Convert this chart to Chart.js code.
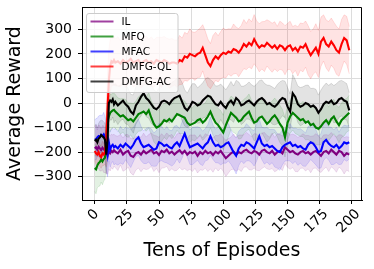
<!DOCTYPE html>
<html><head><meta charset="utf-8">
<script src="https://cdn.jsdelivr.net/npm/chart.js@4"></script>
<style>html,body{margin:0;padding:0;background:#fff}canvas{display:block}</style>
</head><body>
<canvas id="c" width="374" height="269"></canvas>
<script>
const episodes = [0,1,2,3,4,5,6,7,8,9,10,11,12,13,14,15,
16,18,20,22,24,26,28,30,32,34,36,38,40,
42,44,46,48,50,52,54,56,58,60,62,64,66,68,70,72,74,76,78,80,
82,84,86,88,90,92,94,96,98,100,102,104,106,108,110,112,114,116,118,120,
122,124,126,128,130,132,134,136,138,140,142,144,146,148,150,152,154,156,158,160,
162,164,166,168,170,172,174,176,178,180,182,184,186,188,190,192,194,196,198];
const xTicks = [0,25,50,75,100,125,150,175,200];
const yTicks = [-300,-200,-100,0,100,200,300];
const seriesNames = ['IL','MFQ','MFAC','DMFG-QL','DMFG-AC'];

const ilMean = [-185,-180,-190,-178,-185,-192,-182,-188,-195,-205,-215,-198,-205,-195,-200,-192,
-198,-205,-190,-210,-200,-195,-215,-220,-205,-200,-210,-195,-205,
-198,-190,-205,-200,-212,-195,-200,-190,-205,-198,-210,-200,-192,-205,-195,-210,-200,-205,-198,-215,
-200,-208,-195,-205,-200,-212,-198,-205,-195,-210,-225,-215,-205,-198,-210,-200,-205,-195,-190,-200,
-205,-195,-200,-210,-195,-190,-200,-205,-195,-210,-200,-195,-205,-180,-190,-200,-195,-205,-210,-200,
-195,-205,-200,-210,-200,-195,-205,-215,-200,-195,-205,-190,-200,-210,-195,-200,-215,-205,-210];
const ilStd = [85,90,80,88,92,85,90,95,88,80,75,70,72,68,70,65,
65,70,62,68,72,66,70,74,68,65,70,72,66,
70,68,74,66,72,70,64,68,72,70,66,74,70,68,72,66,70,74,68,70,
72,66,70,74,68,70,66,72,70,68,74,70,66,72,68,70,74,66,70,72,
68,70,74,66,72,70,68,66,72,70,74,68,70,66,72,70,68,74,70,66,
70,72,68,74,66,70,72,68,70,66,74,70,68,72,66,70,74,68,70];

const mfqMean = [-265,-270,-255,-245,-240,-230,-238,-228,-222,-150,-75,-55,-40,-35,-30,-28,
-35,-45,-55,-50,-60,-70,-65,-75,-60,-45,-40,-35,-45,
-30,-60,-85,-100,-95,-85,-70,-75,-65,-75,-60,-45,-50,-55,-60,-80,-90,-85,-80,-70,
-65,-80,-70,-55,-35,-60,-80,-90,-105,-120,-90,-65,-40,-50,-60,-75,-70,-55,-45,-35,
-60,-80,-75,-60,-55,-70,-85,-75,-60,-50,-65,-85,-100,-140,-80,-55,-40,-50,-60,-70,
-65,-80,-75,-90,-85,-100,-105,-95,-80,-70,-85,-65,-55,-75,-90,-70,-60,-50,-40];
const mfqStd = [95,100,90,95,98,92,95,90,88,95,90,80,75,70,72,68,
70,66,72,68,74,70,65,72,68,70,74,66,70,
72,68,74,70,66,72,70,74,68,70,72,66,74,70,68,72,70,66,74,70,
68,72,70,74,66,70,72,68,74,70,76,72,68,70,66,72,74,70,68,72,
70,74,68,72,66,70,74,72,68,70,72,76,74,80,72,68,70,74,70,66,
72,70,74,68,72,70,66,74,70,72,68,74,70,66,72,70,74,68,72];

const mfacMean = [-150,-148,-140,-135,-138,-130,-135,-128,-140,-180,-210,-160,-190,-175,-170,-180,
-175,-185,-170,-180,-165,-175,-185,-170,-150,-140,-165,-180,-175,
-170,-180,-190,-185,-160,-165,-175,-170,-180,-185,-170,-160,-175,-150,-125,-155,-180,-175,-170,-165,
-175,-185,-170,-160,-135,-160,-175,-170,-180,-175,-165,-160,-180,-200,-215,-185,-170,-175,-160,-165,
-175,-185,-160,-135,-165,-175,-170,-180,-175,-185,-195,-200,-180,-170,-165,-160,-175,-170,-180,-175,
-185,-190,-170,-160,-165,-180,-200,-195,-160,-150,-165,-175,-180,-170,-185,-175,-160,-165,-160];
const mfacStd = [80,85,78,82,88,80,85,90,84,95,90,75,72,70,68,72,
72,68,75,70,66,72,78,70,68,74,70,66,72,
70,75,68,72,78,70,66,74,70,72,76,68,70,74,72,66,70,76,72,68,
74,70,66,72,78,70,68,74,72,70,80,76,70,68,74,70,66,72,76,70,
68,72,76,70,66,74,70,72,68,76,70,74,72,66,70,76,72,68,74,70,
72,68,74,70,76,72,66,70,74,72,68,76,70,72,66,74,70,72,68];

const dmfgQlMean = [-195,-205,-210,-200,-215,-220,-205,-210,-200,-140,-20,90,150,170,165,175,
165,170,160,175,165,170,180,165,170,175,160,170,175,
165,170,160,175,170,165,175,170,160,165,165,160,175,170,190,185,200,195,190,200,
205,225,195,165,150,175,190,180,195,205,200,210,205,220,215,205,220,240,230,245,
235,260,240,225,235,230,245,235,225,235,220,235,230,215,230,235,215,225,210,230,
225,240,215,195,210,225,200,250,265,240,230,250,235,215,205,240,265,255,215];
const dmfgQlStd = [40,45,42,48,44,46,50,45,48,120,150,130,110,100,95,98,
96,100,94,98,102,96,92,100,98,94,100,96,98,
94,100,96,92,98,102,96,94,100,98,92,96,100,94,98,96,102,94,98,96,
100,94,98,96,92,100,98,94,96,100,98,92,96,102,94,98,96,100,94,98,
96,100,94,98,96,102,94,98,100,96,92,98,96,100,94,98,96,92,100,96,
98,94,100,96,92,98,96,100,94,98,102,96,94,98,96,100,94,98,96];

const dmfgAcMean = [-155,-150,-160,-145,-140,-130,-135,-140,-150,-210,-150,0,10,5,15,-5,
5,-10,0,10,-5,-15,-35,-45,-10,5,25,40,20,
10,-5,-20,-25,-15,5,10,5,-5,10,20,25,30,5,-20,-30,-15,5,0,-10,
-5,10,20,30,25,10,-5,-10,5,-10,-20,0,10,-5,20,10,-10,-5,5,10,
0,-10,5,15,20,10,-5,0,-10,-15,-5,10,20,15,-15,-35,40,25,-5,-15,
-10,0,-5,-15,-10,-20,-40,-25,-5,5,0,10,-5,0,15,20,10,5,-30];
const dmfgAcStd = [60,65,58,62,66,60,64,62,68,80,85,80,78,75,72,76,
74,78,72,76,80,74,70,78,76,72,78,74,76,
72,78,74,70,76,80,74,72,78,74,70,76,72,78,74,70,76,74,78,72,
76,72,78,74,70,76,74,80,72,76,74,70,78,74,72,76,78,74,70,76,
74,78,72,76,74,70,78,72,76,74,80,76,72,74,78,72,76,70,74,78,
76,72,78,74,70,76,72,78,74,76,72,70,76,78,74,72,76,74,72];

const seriesColors = ['128,0,128','0,128,0','0,0,255','255,0,0','0,0,0'];
const means = [ilMean, mfqMean, mfacMean, dmfgQlMean, dmfgAcMean];
const stds = [ilStd, mfqStd, mfacStd, dmfgQlStd, dmfgAcStd];

const FONT = "'DejaVu Sans', sans-serif";
Chart.defaults.font.family = FONT;

const datasets = [];
seriesNames.forEach((name, i) => {
  const c = seriesColors[i];
  const m = means[i], s = stds[i];
  datasets.push({
    data: m.map((v, k) => ({x: episodes[k], y: v + s[k]})),
    fill: '+1', backgroundColor: 'rgba(' + c + ',0.11)', borderColor: 'rgba(' + c + ',0.12)',
    borderWidth: 1, pointRadius: 0, tension: 0, order: 20 + i
  });
  datasets.push({
    data: m.map((v, k) => ({x: episodes[k], y: v - s[k]})),
    fill: false, borderColor: 'rgba(' + c + ',0.12)',
    borderWidth: 1, pointRadius: 0, tension: 0, order: 20 + i
  });
  datasets.push({
    label: name,
    data: m.map((v, k) => ({x: episodes[k], y: v})),
    fill: false, borderColor: 'rgb(' + c + ')',
    borderWidth: 2.1, pointRadius: 0, tension: 0, order: 10 - i
  });
});

const decor = {
  id: 'decor',
  afterDraw(chart) {
    const ctx = chart.ctx, ca = chart.chartArea;
    ctx.save();
    ctx.strokeStyle = '#000'; ctx.lineWidth = 1;
    ctx.beginPath();
    ctx.moveTo(Math.round(ca.left) + 0.5, Math.round(ca.top) + 0.5);
    ctx.lineTo(Math.round(ca.right) - 0.5, Math.round(ca.top) + 0.5);
    ctx.lineTo(Math.round(ca.right) - 0.5, Math.round(ca.bottom) + 0.5);
    ctx.stroke();
    const xs = chart.scales.x;
    ctx.font = '14px ' + FONT;
    ctx.fillStyle = '#000';
    ctx.textAlign = 'center'; ctx.textBaseline = 'middle';
    xTicks.forEach(v => {
      const t = String(v);
      const w = ctx.measureText(t).width;
      const px = xs.getPixelForValue(v) - 0.12 * w;
      const py = ca.bottom + 6 + (w + 16.4) * 0.7071 / 2;
      ctx.save();
      ctx.translate(px, py);
      ctx.rotate(-Math.PI / 4);
      ctx.fillText(t, 0, 0);
      ctx.restore();
    });
    const lx = 86.5, ly = 13.5, lw = 91.5, lh = 79;
    ctx.beginPath();
    if (ctx.roundRect) ctx.roundRect(lx, ly, lw, lh, 2.5); else ctx.rect(lx, ly, lw, lh);
    ctx.fillStyle = 'rgba(255,255,255,0.8)';
    ctx.fill();
    ctx.strokeStyle = '#cccccc'; ctx.lineWidth = 1;
    ctx.stroke();
    ctx.font = '10.5px ' + FONT;
    ctx.textAlign = 'left'; ctx.textBaseline = 'middle';
    seriesNames.forEach((name, i) => {
      const y = 21.5 + i * 15;
      ctx.strokeStyle = 'rgba(' + seriesColors[i] + ',0.75)';
      ctx.lineWidth = 2;
      ctx.beginPath(); ctx.moveTo(90.5, y); ctx.lineTo(113.5, y); ctx.stroke();
      ctx.fillStyle = '#000';
      ctx.fillText(name, 121.5, y + 0.5);
    });
    ctx.restore();
  }
};

new Chart(document.getElementById('c'), {
  type: 'line',
  data: { datasets },
  plugins: [decor],
  options: {
    responsive: false, animation: false, devicePixelRatio: 1,
    layout: { padding: { top: 7, right: 12, left: 0, bottom: 0 } },
    plugins: { legend: { display: false }, tooltip: { enabled: false } },
    scales: {
      x: {
        type: 'linear', min: -9.9, max: 207.9,
        afterBuildTicks: s => { s.ticks = xTicks.map(v => ({ value: v })); },
        afterFit: s => { s.height = 69; s.paddingLeft = 0; s.paddingRight = 0; },
        ticks: { display: false },
        grid: { color: '#dcdcdc', lineWidth: 1, tickColor: '#000', tickLength: 4 },
        border: { color: '#000', width: 1 },
        title: { display: true, text: 'Tens of Episodes', color: '#000', font: { family: FONT, size: 19 }, padding: { top: 0, bottom: 7 } }
      },
      y: {
        type: 'linear', min: -395, max: 391,
        afterBuildTicks: s => { s.ticks = yTicks.map(v => ({ value: v })); },
        afterFit: s => { s.width = 82; s.paddingTop = 0; s.paddingBottom = 0; },
        ticks: { color: '#000', font: { family: FONT, size: 14 }, padding: 6,
          callback: v => v < 0 ? '\u2212' + Math.abs(v) : String(v) },
        grid: { color: '#dcdcdc', lineWidth: 1, tickColor: '#000', tickLength: 4 },
        border: { color: '#000', width: 1 },
        title: { display: true, text: 'Average Reward', color: '#000', font: { family: FONT, size: 19 }, padding: { top: 3.6, bottom: 0 } }
      }
    }
  }
});
</script>
</body></html>
